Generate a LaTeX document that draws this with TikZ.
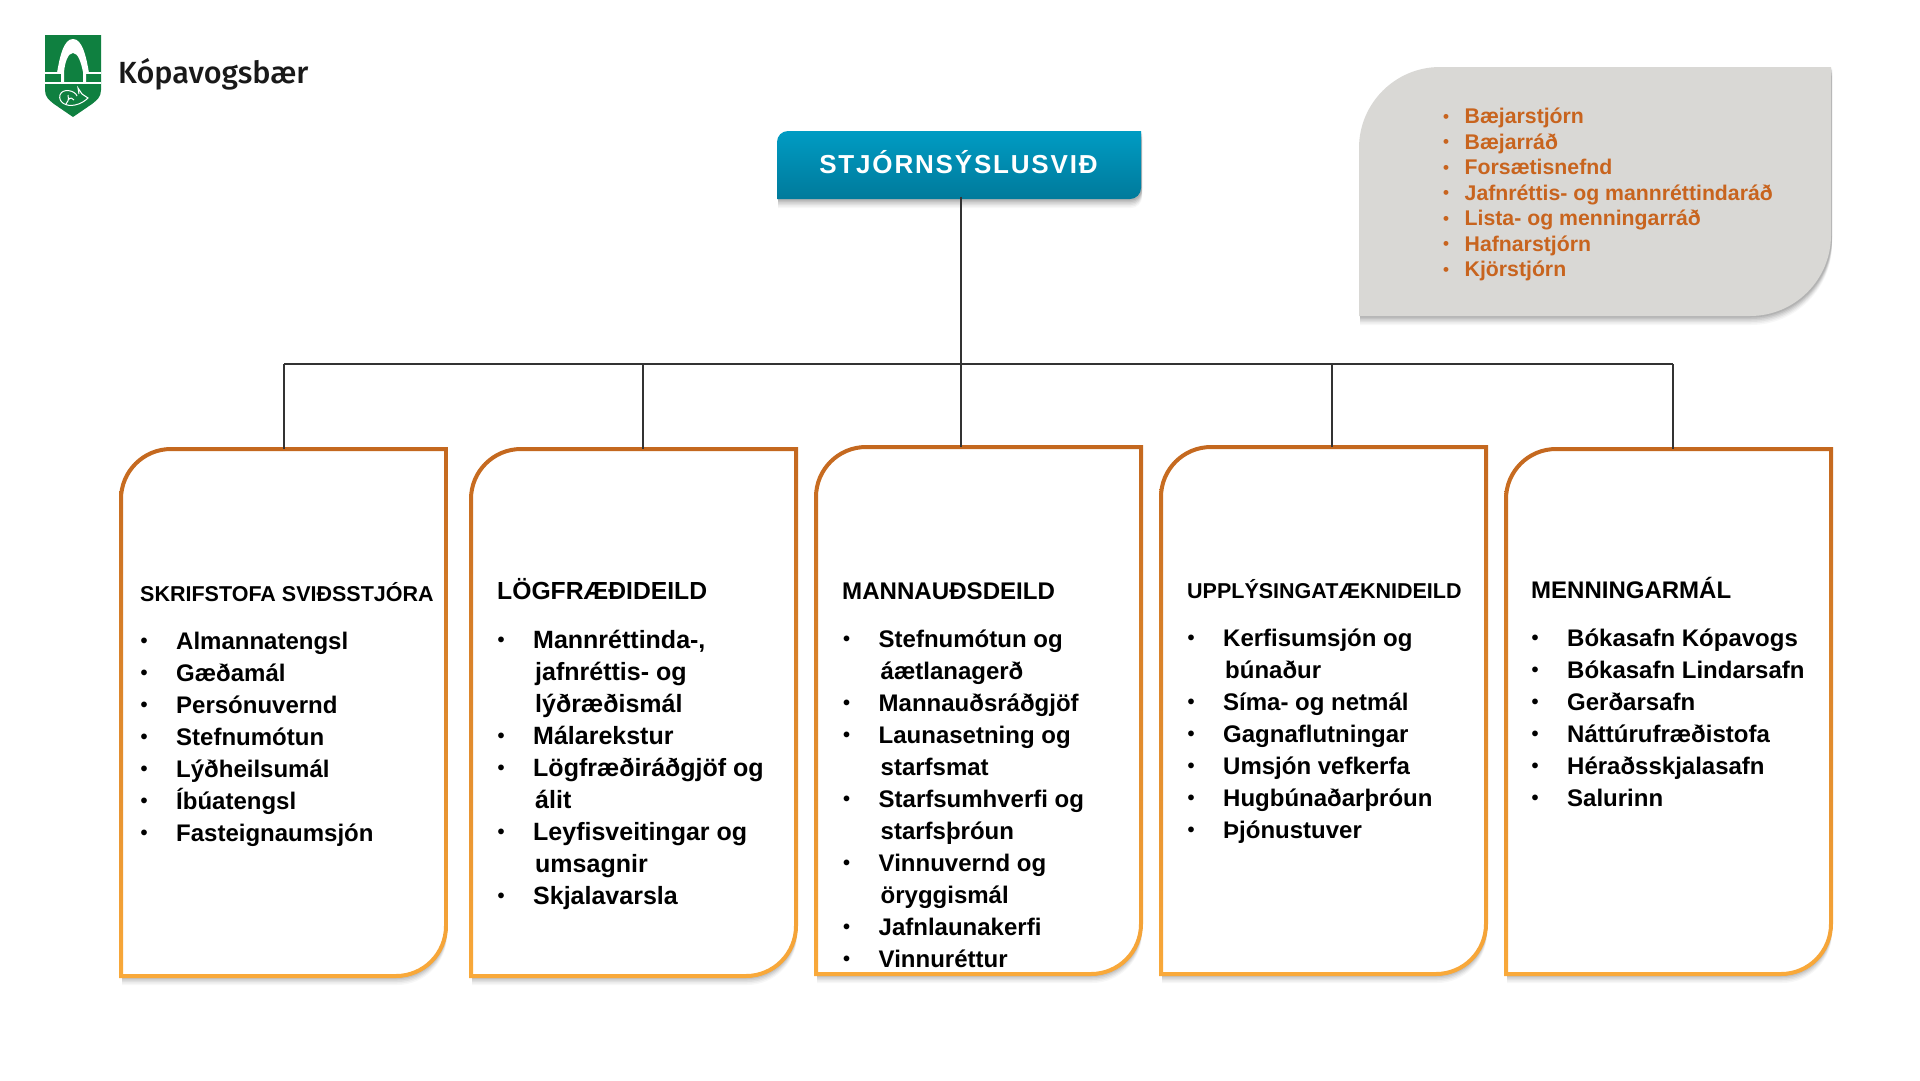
\documentclass[tikz,border=0pt]{standalone}
\usepackage{fontspec}
\setmainfont{Liberation Sans}
\newfontfamily\logofont{Fira Sans Medium}
\newfontfamily\headfont[LetterSpace=7,Scale=1]{Liberation Sans Bold}
\usetikzlibrary{calc}
\definecolor{ringtop}{HTML}{C4681F}
\definecolor{ringbot}{HTML}{F9A93A}
\definecolor{btntop}{HTML}{009CC3}
\definecolor{btnbot}{HTML}{007A9B}
\definecolor{panel}{HTML}{D9D8D5}
\definecolor{panelink}{HTML}{C8641E}
\definecolor{linkc}{HTML}{333333}
\definecolor{crest}{HTML}{0F8040}
\newcommand{\leafpath}[5]{(#1,#4) -- (#1,{(#2)+(#5)}) .. controls (#1,{(#2)+0.448*(#5)}) and ({(#1)+0.448*(#5)},#2) .. ({(#1)+(#5)},#2) -- (#3,#2) -- (#3,{(#4)-(#5)}) .. controls (#3,{(#4)-0.448*(#5)}) and ({(#3)-0.448*(#5)},#4) .. ({(#3)-(#5)},#4) -- cycle}
\newcommand{\softshadow}[5]{%
  \foreach \k/\o in {9/0.03,7.5/0.04,6/0.05,4.5/0.06,3/0.07,1.5/0.08}{%
    \fill[black,opacity=\o,shift={(1,\k)}] \leafpath{#1}{#2}{#3}{#4}{#5};}}
\newcommand{\card}[5]{%
  \softshadow{#1}{#2}{#3}{#4}{#5}%
  \fill[white] \leafpath{#1}{#2}{#3}{#4}{#5};
  \shade[top color=ringtop,bottom color=ringbot,even odd rule]
    \leafpath{#1-2}{#2-2}{#3+2}{#4+2}{#5+2} \leafpath{#1+2}{#2+2}{#3-2}{#4-2}{#5-2};}
\newcommand{\itm}[1]{\makebox[36pt][l]{\hspace{0.5pt}\raisebox{2pt}{\fontsize{20}{20}\selectfont\textbullet}}#1}
\newcommand{\cnt}[1]{\hspace*{38pt}#1}
\newcommand{\ptm}[1]{\makebox[22pt][l]{\hspace{0.5pt}\raisebox{1.5pt}{\fontsize{17}{17}\selectfont\textbullet}}#1}
\tikzset{
  x=1pt,y=-1pt,
  anchorbox/.style={rectangle,inner sep=0,outer sep=0,minimum width=#1},
  link/.style={draw=linkc,line width=1.6pt},
  cardtitle/.style={anchor=base west,inner sep=0,font=\bfseries\fontsize{#1}{#1}\selectfont},
  cardlist/.style={anchor=north west,inner sep=0,align=left,font=\bfseries\fontsize{#1}{32}\selectfont},
  paneltext/.style={anchor=north west,inner sep=0,align=left,text=panelink,font=\bfseries\fontsize{21.25}{25.5}\selectfont},
}
\begin{document}
\begin{tikzpicture}
\useasboundingbox (0,0) rectangle (1920,1080);
\fill[white] (0,0) rectangle (1920,1080);

% crest
\fill[crest] (45,35) -- (101,35) -- (101,90) .. controls (101,97) and (97,100) .. (92,104) -- (73,117) -- (54,104) .. controls (49,100) and (45,97) .. (45,90) -- cycle;
\fill[white] (57,73) .. controls (60,55) and (64,39) .. (73,39) .. controls (82,39) and (86,55) .. (89,73) -- (86,73) -- (86,83) -- (83,83) -- (83,72) .. controls (81,62) and (78,53) .. (73,53) .. controls (68,53) and (65,62) .. (64,72) -- (64,83) -- (61,83) -- (61,73) -- cycle;
\fill[white] (45,72) rectangle (64,74);
\fill[white] (83,72) rectangle (101,74);
\fill[white] (45,82) rectangle (101,84);
\draw[white,line width=1pt] (77,96) .. controls (75,90) and (62,88) .. (60,95) .. controls (58,102) and (66,107) .. (75,105) .. controls (81,104) and (86,100) .. (88,98) -- (82,94) -- (78,88) -- (79,94);
\draw[white,line width=1pt] (68,100) .. controls (70,97) and (73,98) .. (74,100) (66,104) .. controls (68,102) and (69,100) .. (68,95);
\node (logotext) [anchor=base west,inner sep=0,font=\logofont\fontsize{30.6}{30.6}\selectfont,text=black!90] at (118,83) {Kópavogsbær};

% root button
\softshadow{777}{131}{1141}{199}{11}
\shade[top color=btntop,bottom color=btnbot] \leafpath{777}{131}{1141}{199}{11};
\node (root) [rectangle,inner sep=0,minimum width=364pt,minimum height=68pt,text=white,font=\headfont\fontsize{26}{26}\selectfont] at (958.5,162.5) {STJÓRNSÝSLUSVIÐ};

% panel
\softshadow{1359}{67}{1831}{316}{81}
\fill[panel] \leafpath{1359}{67}{1831}{316}{81};
\node (panellist) [paneltext] at (1442.5,108) {\ptm{Bæjarstjórn}\\\ptm{Bæjarráð}\\\ptm{Forsætisnefnd}\\\ptm{Jafnréttis- og mannréttindaráð}\\\ptm{Lista- og menningarráð}\\\ptm{Hafnarstjórn}\\\ptm{Kjörstjórn}};

% cards
\card{121}{449}{446}{976}{50}
\card{471}{449}{796}{976}{50}
\card{816}{447}{1141}{974}{50}
\card{1161}{447}{1486}{974}{50}
\card{1506}{449}{1831}{974}{50}
\node (card1) [anchorbox=325pt,minimum height=527pt] at (283.5,712.5) {};
\node (card2) [anchorbox=325pt,minimum height=527pt] at (633.5,712.5) {};
\node (card3) [anchorbox=325pt,minimum height=527pt] at (978.5,710.5) {};
\node (card4) [anchorbox=325pt,minimum height=527pt] at (1323.5,710.5) {};
\node (card5) [anchorbox=325pt,minimum height=525pt] at (1668.5,711.5) {};

% connectors
\coordinate (bushub) at (961,364);
\coordinate (busa) at (284,364);
\coordinate (busb) at (643,364);
\coordinate (busd) at (1332,364);
\coordinate (buse) at (1673,364);
\draw[link] (bushub |- root.south) -- (bushub);
\draw[link] (busa) -- (buse);
\draw[link] (busa) -- (busa |- card1.north);
\draw[link] (busb) -- (busb |- card2.north);
\draw[link] (bushub) -- (bushub |- card3.north);
\draw[link] (busd) -- (busd |- card4.north);
\draw[link] (buse) -- (buse |- card5.north);

% card text
\node (t1) [cardtitle=21.5] at (140,601) {SKRIFSTOFA SVIÐSSTJÓRA};
\node (l1) [cardlist=24] at (140,632) {\itm{Almannatengsl}\\\itm{Gæðamál}\\\itm{Persónuvernd}\\\itm{Stefnumótun}\\\itm{Lýðheilsumál}\\\itm{Íbúatengsl}\\\itm{Fasteignaumsjón}};
\node (t2) [cardtitle=24.7] at (497,599) {LÖGFRÆÐIDEILD};
\node (l2) [cardlist=25] at (497,630) {\itm{Mannréttinda-,}\\\cnt{jafnréttis- og}\\\cnt{lýðræðismál}\\\itm{Málarekstur}\\\itm{Lögfræðiráðgjöf og}\\\cnt{álit}\\\itm{Leyfisveitingar og}\\\cnt{umsagnir}\\\itm{Skjalavarsla}};
\node (t3) [cardtitle=24.1] at (842,599) {MANNAUÐSDEILD};
\node (l3) [cardlist=24] at (842.5,630) {\itm{Stefnumótun og}\\\cnt{áætlanagerð}\\\itm{Mannauðsráðgjöf}\\\itm{Launasetning og}\\\cnt{starfsmat}\\\itm{Starfsumhverfi og}\\\cnt{starfsþróun}\\\itm{Vinnuvernd og}\\\cnt{öryggismál}\\\itm{Jafnlaunakerfi}\\\itm{Vinnuréttur}};
\node (t4) [cardtitle=21.5] at (1187,598) {UPPLÝSINGATÆKNIDEILD};
\node (l4) [cardlist=24] at (1187,629) {\itm{Kerfisumsjón og}\\\cnt{búnaður}\\\itm{Síma- og netmál}\\\itm{Gagnaflutningar}\\\itm{Umsjón vefkerfa}\\\itm{Hugbúnaðarþróun}\\\itm{Þjónustuver}};
\node (t5) [cardtitle=24] at (1531,598) {MENNINGARMÁL};
\node (l5) [cardlist=24] at (1531,629) {\itm{Bókasafn Kópavogs}\\\itm{Bókasafn Lindarsafn}\\\itm{Gerðarsafn}\\\itm{Náttúrufræðistofa}\\\itm{Héraðsskjalasafn}\\\itm{Salurinn}};
\end{tikzpicture}
\end{document}
